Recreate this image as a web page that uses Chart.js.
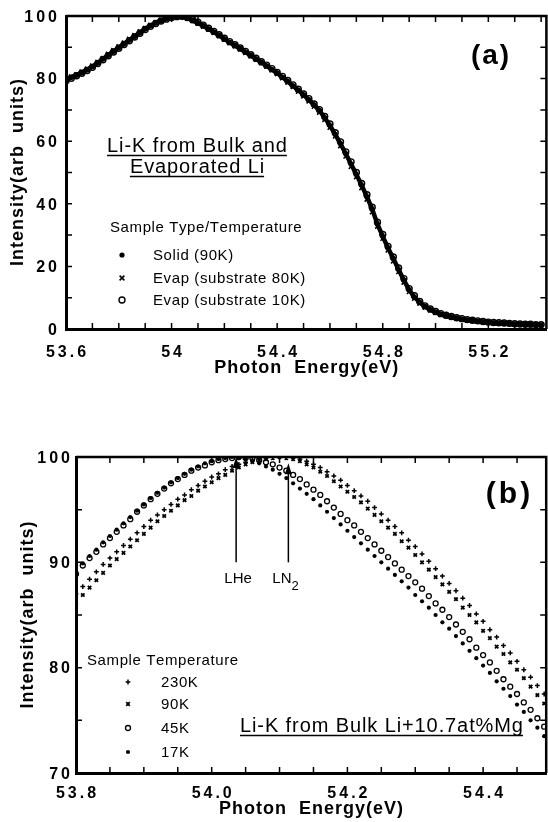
<!DOCTYPE html>
<html>
<head>
<meta charset="utf-8">
<script src="https://cdn.jsdelivr.net/npm/chart.js@4.4.0/dist/chart.umd.min.js"></script>
<style>
html, body { margin: 0; padding: 0; background: #fff; overflow: hidden; }
canvas { position: absolute; left: 0; }
#chartA { top: 0; }
#chartB { top: 415px; }
</style>
</head>
<body>
<canvas id="chartA" width="552" height="390"></canvas>
<canvas id="chartB" width="552" height="407"></canvas>
<script>
// ---- panel (a): Li-K from bulk and evaporated Li ----
var energyA = [53.60,53.62,53.64,53.66,53.68,53.70,53.72,53.74,53.76,53.78,
               53.80,53.82,53.84,53.86,53.88,53.90,53.92,53.94,53.96,53.98,
               54.00,54.02,54.04,54.06,54.08,54.10,54.12,54.14,54.16,54.18,
               54.20,54.22,54.24,54.26,54.28,54.30,54.32,54.34,54.36,54.38,
               54.40,54.42,54.44,54.46,54.48,54.50,54.52,54.54,54.56,54.58,
               54.60,54.62,54.64,54.66,54.68,54.70,54.72,54.74,54.76,54.78,
               54.80,54.82,54.84,54.86,54.88,54.90,54.92,54.94,54.96,54.98,
               55.00,55.02,55.04,55.06,55.08,55.10,55.12,55.14,55.16,55.18,
               55.20,55.22,55.24,55.26,55.28,55.30,55.32,55.34,55.36,55.38,55.40];
var solid90K = [79.6,80.4,81.1,81.9,82.8,83.8,85.0,86.3,87.5,88.7,
                89.9,91.1,92.3,93.5,94.7,95.9,96.9,97.8,98.5,99.1,
                99.6,99.9,99.8,99.4,98.6,97.8,96.9,95.9,94.9,93.8,
                92.7,91.6,90.6,89.6,88.5,87.4,86.3,85.2,84.1,82.9,
                81.8,80.4,79.1,77.7,76.3,74.8,73.3,71.6,69.8,67.5,
                65.0,62.2,59.2,56.0,52.7,49.4,45.9,42.3,38.3,33.5,
                29.6,25.9,22.5,19.0,15.6,12.5,10.2,8.5,7.2,6.2,
                5.4,4.8,4.3,3.9,3.5,3.2,2.9,2.7,2.5,2.3,
                2.1,2.0,1.9,1.8,1.7,1.6,1.5,1.5,1.4,1.4,1.3];
var evap80K = [79.9,80.6,81.3,82.2,83.1,84.1,85.3,86.5,87.8,89.0,
               90.2,91.4,92.6,93.8,95.0,96.1,97.1,98.0,98.7,99.3,
               99.7,100.0,99.7,99.2,98.5,97.6,96.7,95.7,94.7,93.6,
               92.5,91.4,90.4,89.4,88.3,87.2,86.1,85.0,83.9,82.7,
               81.5,80.2,78.8,77.4,75.9,74.4,72.8,71.1,69.2,66.9,
               64.4,61.6,58.5,55.2,51.9,48.6,45.1,41.4,37.4,32.8,
               28.9,25.2,21.7,18.3,14.9,11.9,9.8,8.2,6.9,6.0,
               5.2,4.6,4.1,3.7,3.4,3.1,2.8,2.6,2.4,2.2,
               2.0,1.9,1.8,1.7,1.6,1.5,1.5,1.4,1.4,1.3,1.3];
var evap10K = [79.3,80.1,80.9,81.7,82.6,83.6,84.8,86.0,87.3,88.5,
               89.7,90.9,92.1,93.3,94.5,95.7,96.7,97.6,98.4,99.0,
               99.5,99.8,99.9,99.5,98.8,98.0,97.1,96.1,95.1,94.0,
               92.9,91.8,90.8,89.8,88.7,87.6,86.5,85.4,84.3,83.2,
               82.0,80.7,79.4,78.0,76.6,75.1,73.6,71.9,70.1,67.9,
               65.5,62.7,59.8,56.6,53.4,50.0,46.5,42.9,38.9,34.1,
               30.2,26.4,23.0,19.5,16.1,12.9,10.6,8.8,7.4,6.4,
               5.6,4.9,4.4,4.0,3.6,3.3,3.0,2.8,2.6,2.4,
               2.2,2.1,2.0,1.9,1.8,1.7,1.6,1.5,1.5,1.4,1.4];
var xTicksA = [53.6,53.7,53.8,53.9,54.0,54.1,54.2,54.3,54.4,54.5,54.6,54.7,54.8,54.9,55.0,55.1,55.2,55.3,55.4];
var xMajorA = [53.6, 54.0, 54.4, 54.8, 55.2];
var xLabelsA = ['53.6', '54', '54.4', '54.8', '55.2'];
var yTicksA = [0,10,20,30,40,50,60,70,80,90,100];
var yMajorA = [0, 20, 40, 60, 80, 100];
var yLabelsA = ['0', '20', '40', '60', '80', '100'];

// ---- panel (b): Li-K from bulk Li+10.7at%Mg ----
var energyB = [53.80,53.81,53.82,53.83,53.84,53.85,53.86,53.87,53.88,53.89,
               53.90,53.91,53.92,53.93,53.94,53.95,53.96,53.97,53.98,53.99,
               54.00,54.01,54.02,54.03,54.04,54.05,54.06,54.07,54.08,54.09,
               54.10,54.11,54.12,54.13,54.14,54.15,54.16,54.17,54.18,54.19,
               54.20,54.21,54.22,54.23,54.24,54.25,54.26,54.27,54.28,54.29,
               54.30,54.31,54.32,54.33,54.34,54.35,54.36,54.37,54.38,54.39,
               54.40,54.41,54.42,54.43,54.44,54.45,54.46,54.47,54.48,54.49];
var t230K = [87.0,87.7,88.4,89.1,89.8,90.4,91.0,91.6,92.2,92.8,
             93.4,94.0,94.5,95.0,95.5,96.0,96.4,96.9,97.3,97.7,
             98.1,98.4,98.8,99.1,99.3,99.5,99.7,99.8,99.9,100.0,
             100.0,100.0,99.9,99.8,99.6,99.3,99.0,98.6,98.2,97.8,
             97.3,96.8,96.3,95.8,95.2,94.6,94.0,93.4,92.8,92.1,
             91.5,90.8,90.1,89.4,88.7,88.0,87.3,86.6,85.9,85.1,
             84.4,83.6,82.9,82.1,81.4,80.6,79.8,79.1,78.3,77.5];
var t90K = [86.1,86.9,87.6,88.3,89.0,89.7,90.3,90.9,91.5,92.1,
            92.7,93.3,93.9,94.4,94.9,95.4,95.9,96.3,96.8,97.2,
            97.6,98.0,98.3,98.7,99.0,99.3,99.5,99.7,99.8,99.9,
            100.0,99.9,99.8,99.6,99.3,99.0,98.6,98.2,97.7,97.2,
            96.7,96.2,95.7,95.1,94.5,93.9,93.3,92.7,92.0,91.4,
            90.7,90.0,89.3,88.6,87.9,87.2,86.5,85.7,85.0,84.3,
            83.5,82.8,82.0,81.3,80.5,79.8,79.0,78.2,77.4,76.6];
var t45K = [88.9,89.7,90.4,91.0,91.7,92.3,92.9,93.5,94.1,94.8,
            95.4,96.0,96.5,97.0,97.5,97.9,98.3,98.7,99.0,99.2,
            99.5,99.7,99.8,99.9,100.0,99.9,99.9,99.7,99.5,99.3,
            99.0,98.7,98.3,97.9,97.4,96.9,96.4,95.8,95.2,94.6,
            94.0,93.5,92.9,92.3,91.7,91.1,90.5,89.9,89.3,88.7,
            88.1,87.5,86.8,86.1,85.5,84.8,84.1,83.4,82.7,81.9,
            81.2,80.5,79.7,78.9,78.2,77.5,76.7,76.0,75.2,74.4];
var t17K = [89.1,89.9,90.6,91.2,91.9,92.5,93.1,93.7,94.3,94.9,
            95.5,96.1,96.6,97.1,97.6,98.0,98.4,98.8,99.1,99.4,
            99.6,99.8,99.9,100.0,99.9,99.8,99.6,99.4,99.1,98.8,
            98.4,98.0,97.5,97.0,96.5,96.0,95.4,94.8,94.2,93.6,
            93.0,92.4,91.8,91.2,90.6,90.0,89.4,88.8,88.2,87.6,
            86.9,86.3,85.7,85.0,84.3,83.7,83.0,82.3,81.6,80.9,
            80.2,79.5,78.7,78.0,77.3,76.5,75.8,75.0,74.3,73.5];
var xTicksB = [53.8,53.85,53.9,53.95,54.0,54.05,54.1,54.15,54.2,54.25,54.3,54.35,54.4,54.45];
var xMajorB = [53.8, 54.0, 54.2, 54.4];
var xLabelsB = ['53.8', '54.0', '54.2', '54.4'];
var yTicksB = [70,75,80,85,90,95,100];
var yMajorB = [70, 80, 90, 100];
var yLabelsB = ['70', '80', '90', '100'];
// peak markers (LHe / LN2)
var arrowE = [54.036, 54.113];
var arrowTip = [100.0, 99.4];
var arrowTail = [90.0, 90.0];

var FONT = '"Liberation Sans", Arial, Helvetica, sans-serif';

function pts(xs, ys) {
    return xs.map(function (x, i) { return {x: x, y: ys[i]}; });
}

function setTicks(list) {
    return function (scale) {
	scale.ticks = list.map(function (v) { return {value: v}; });
    };
}

function labelFor(majors, labels) {
    return function (v) {
	for (var i = 0; i < majors.length; i++) {
	    if (Math.abs(majors[i] - v) < 1e-6) return labels[i];
	}
	return '';
    };
}

// text with explicit spacing between glyphs (the scan has wide-set lettering)
function spaced(ctx, s, x, y, size, weight, align, sp) {
    ctx.font = weight + ' ' + size + 'px ' + FONT;
    ctx.textAlign = 'left';
    ctx.textBaseline = 'alphabetic';
    ctx.fillStyle = '#000';
    var ws = s.split('').map(function (c) { return ctx.measureText(c).width; });
    var w = ws.reduce(function (a, b) { return a + b; }, 0) + sp * (s.length - 1);
    var x0 = align === 'center' ? x - w / 2 : (align === 'right' ? x - w : x);
    var cx = x0;
    for (var i = 0; i < s.length; i++) {
	ctx.fillText(s[i], cx, y);
	cx += ws[i] + sp;
    }
    return {x0: x0, w: w};
}

function underlined(ctx, s, x, y, size, sp, align) {
    var r = spaced(ctx, s, x, y, size, 'normal', align, sp);
    ctx.strokeStyle = '#000';
    ctx.lineWidth = 1.5;
    ctx.beginPath();
    ctx.moveTo(r.x0, y + 3.5);
    ctx.lineTo(r.x0 + r.w, y + 3.5);
    ctx.stroke();
}

function vtitle(ctx, s, x, y, size, sp) {
    ctx.save();
    ctx.translate(x, y);
    ctx.rotate(-Math.PI / 2);
    spaced(ctx, s, 0, 6, size, 'bold', 'center', sp);
    ctx.restore();
}

function marker(ctx, ds, x, y) {
    var r = ds.pointRadius;
    ctx.save();
    ctx.strokeStyle = '#000';
    ctx.fillStyle = ds.backgroundColor;
    ctx.lineWidth = ds.pointBorderWidth || 1;
    ctx.beginPath();
    if (ds.pointStyle === 'circle') {
	ctx.arc(x, y, r, 0, 2 * Math.PI);
	ctx.fill();
	if (ds.pointBorderWidth > 0) ctx.stroke();
    } else if (ds.pointStyle === 'crossRot') {
	var d = r * 0.75;
	ctx.moveTo(x - d, y - d); ctx.lineTo(x + d, y + d);
	ctx.moveTo(x + d, y - d); ctx.lineTo(x - d, y + d);
	ctx.stroke();
    } else {
	ctx.moveTo(x - r, y); ctx.lineTo(x + r, y);
	ctx.moveTo(x, y - r); ctx.lineTo(x, y + r);
	ctx.stroke();
    }
    ctx.restore();
}

// closed frame, inward tick marks and tick labels from the chart's own scales
function drawFrame(chart, xBase, yRight) {
    var ctx = chart.ctx, a = chart.chartArea;
    var xs = chart.scales.x, ys = chart.scales.y;
    ctx.save();
    ctx.strokeStyle = '#000';
    ctx.lineWidth = 2.5;
    ctx.beginPath();
    ctx.moveTo(a.left, a.top);
    ctx.lineTo(a.right, a.top);
    ctx.lineTo(a.right, a.bottom);
    ctx.stroke();
    ctx.lineWidth = 1.5;
    ctx.beginPath();
    xs.ticks.forEach(function (t) {
	var p = xs.getPixelForValue(t.value);
	ctx.moveTo(p, a.bottom); ctx.lineTo(p, a.bottom - 6);
	ctx.moveTo(p, a.top); ctx.lineTo(p, a.top + 6);
    });
    ys.ticks.forEach(function (t) {
	var p = ys.getPixelForValue(t.value);
	ctx.moveTo(a.left, p); ctx.lineTo(a.left + 6, p);
	ctx.moveTo(a.right, p); ctx.lineTo(a.right - 6, p);
    });
    ctx.stroke();
    xs.ticks.forEach(function (t) {
	if (t.label) spaced(ctx, t.label, xs.getPixelForValue(t.value), xBase, 16, 'bold', 'center', 3);
    });
    ys.ticks.forEach(function (t) {
	if (t.label) spaced(ctx, t.label, yRight, ys.getPixelForValue(t.value) + 5.7, 16, 'bold', 'right', 3);
    });
    ctx.restore();
}

function axes(xmin, xmax, xticks, xmaj, xlab, ymin, ymax, yticks, ymaj, ylab, xh, yw) {
    return {
	x: {
	    type: 'linear', min: xmin, max: xmax,
	    afterBuildTicks: setTicks(xticks),
	    afterFit: function (s) { s.height = xh; },
	    grid: {display: false},
	    border: {display: true, color: '#000', width: 3},
	    ticks: {display: false, autoSkip: false, callback: labelFor(xmaj, xlab)}
	},
	y: {
	    type: 'linear', min: ymin, max: ymax,
	    afterBuildTicks: setTicks(yticks),
	    afterFit: function (s) { s.width = yw; },
	    grid: {display: false},
	    border: {display: true, color: '#000', width: 3},
	    ticks: {display: false, autoSkip: false, callback: labelFor(ymaj, ylab)}
	}
    };
}

var decoA = {
    id: 'decoA',
    afterDraw: function (chart) {
	var ctx = chart.ctx, a = chart.chartArea;
	drawFrame(chart, 357, 57);
	ctx.save();
	spaced(ctx, 'Photon  Energy(eV)', (a.left + a.right) / 2, 373, 18, 'bold', 'center', 1);
	vtitle(ctx, 'Intensity(arb  units)', 17, (a.top + a.bottom) / 2, 18, 1);
	spaced(ctx, '(a)', 490, 64, 28, 'bold', 'center', 2);
	underlined(ctx, 'Li-K from Bulk and', 197, 152, 20, 0.9, 'center');
	underlined(ctx, 'Evaporated Li', 197, 173, 20, 0.9, 'center');
	spaced(ctx, 'Sample Type/Temperature', 110, 232, 15, 'normal', 'left', 0.6);
	var rows = [260, 283, 305];
	chart.data.datasets.forEach(function (ds, i) {
	    marker(ctx, ds, 122, rows[i] - 5);
	    spaced(ctx, ds.label, 153, rows[i], 15, 'normal', 'left', 0.6);
	});
	ctx.restore();
    }
};

var decoB = {
    id: 'decoB',
    afterDraw: function (chart) {
	var ctx = chart.ctx, a = chart.chartArea;
	var xs = chart.scales.x, ys = chart.scales.y;
	drawFrame(chart, 383, 70);
	ctx.save();
	// peak position arrows
	ctx.strokeStyle = '#000';
	ctx.fillStyle = '#000';
	ctx.lineWidth = 1.5;
	arrowE.forEach(function (e, i) {
	    var px = xs.getPixelForValue(e);
	    var yt = ys.getPixelForValue(arrowTip[i]);
	    var yb = ys.getPixelForValue(arrowTail[i]);
	    ctx.beginPath();
	    ctx.moveTo(px, yb); ctx.lineTo(px, yt + 8);
	    ctx.stroke();
	    ctx.beginPath();
	    ctx.moveTo(px, yt); ctx.lineTo(px - 3.5, yt + 11); ctx.lineTo(px + 3.5, yt + 11);
	    ctx.closePath();
	    ctx.fill();
	});
	var pLHe = xs.getPixelForValue(arrowE[0]);
	var pLN = xs.getPixelForValue(arrowE[1]);
	spaced(ctx, 'LHe', pLHe + 2, 168, 15, 'normal', 'center', 0);
	var ln = spaced(ctx, 'LN', pLN - 16, 168, 15, 'normal', 'left', 0);
	spaced(ctx, '2', ln.x0 + ln.w, 175, 13, 'normal', 'left', 0);
	spaced(ctx, 'Photon  Energy(eV)', (a.left + a.right) / 2, 399, 18, 'bold', 'center', 1);
	vtitle(ctx, 'Intensity(arb  units)', 27, (a.top + a.bottom) / 2, 18, 1);
	spaced(ctx, '(b)', 508, 88, 30, 'bold', 'center', 3);
	underlined(ctx, 'Li-K from Bulk Li+10.7at%Mg', 240, 317, 20, 0.9, 'left');
	spaced(ctx, 'Sample Temperature', 87, 250, 15, 'normal', 'left', 0.6);
	var rows = [272, 294, 318, 342];
	chart.data.datasets.forEach(function (ds, i) {
	    marker(ctx, ds, 128, rows[i] - 5);
	    spaced(ctx, ds.label, 161, rows[i], 15, 'normal', 'left', 0.6);
	});
	ctx.restore();
    }
};

var common = {
    responsive: false,
    animation: false,
    events: [],
    plugins: {legend: {display: false}, tooltip: {enabled: false}}
};

var chartA = new Chart(document.getElementById('chartA'), {
    type: 'scatter',
    data: {datasets: [
	{label: 'Solid (90K)', data: pts(energyA, solid90K), pointStyle: 'circle', pointRadius: 2.6,
	 pointBorderWidth: 0, backgroundColor: '#000', borderColor: '#000', showLine: true, borderWidth: 4.5},
	{label: 'Evap (substrate 80K)', data: pts(energyA, evap80K), pointStyle: 'crossRot', pointRadius: 3.2,
	 pointBorderWidth: 1.6, backgroundColor: '#000', borderColor: '#000'},
	{label: 'Evap (substrate 10K)', data: pts(energyA, evap10K), pointStyle: 'circle', pointRadius: 3,
	 pointBorderWidth: 1.4, backgroundColor: 'rgba(0,0,0,0)', borderColor: '#000'}
    ]},
    options: Object.assign({}, common, {
	layout: {padding: {top: 16, right: 1, left: 0, bottom: 0}},
	scales: axes(53.6, 55.42, xTicksA, xMajorA, xLabelsA, 0, 100, yTicksA, yMajorA, yLabelsA, 61, 66)
    }),
    plugins: [decoA]
});

var chartB = new Chart(document.getElementById('chartB'), {
    type: 'scatter',
    data: {datasets: [
	{label: '230K', data: pts(energyB, t230K), pointStyle: 'cross', pointRadius: 2.4,
	 pointBorderWidth: 1.5, backgroundColor: '#000', borderColor: '#000'},
	{label: '90K', data: pts(energyB, t90K), pointStyle: 'crossRot', pointRadius: 2.4,
	 pointBorderWidth: 1.8, backgroundColor: '#000', borderColor: '#000'},
	{label: '45K', data: pts(energyB, t45K), pointStyle: 'circle', pointRadius: 2.5,
	 pointBorderWidth: 1.3, backgroundColor: 'rgba(0,0,0,0)', borderColor: '#000'},
	{label: '17K', data: pts(energyB, t17K), pointStyle: 'circle', pointRadius: 2.1,
	 pointBorderWidth: 0, backgroundColor: '#000', borderColor: '#000'}
    ]},
    options: Object.assign({}, common, {
	layout: {padding: {top: 42, right: 1, left: 0, bottom: 0}},
	scales: axes(53.8, 54.493, xTicksB, xMajorB, xLabelsB, 70, 100, yTicksB, yMajorB, yLabelsB, 49, 76)
    }),
    plugins: [decoB]
});
</script>
</body>
</html>
